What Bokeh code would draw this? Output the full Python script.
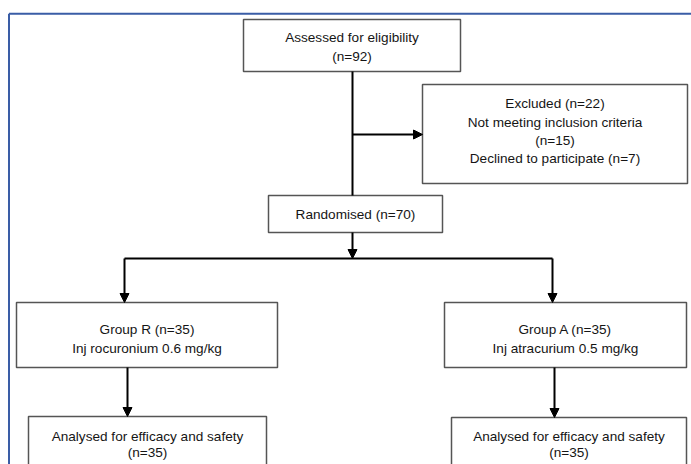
from bokeh.plotting import figure
from bokeh.models import Range1d, Arrow, NormalHead, ColumnDataSource
from bokeh.core.properties import value
from bokeh.embed import file_html
from bokeh.resources import INLINE

# ---------------- data ----------------
assessed_n = 92
excluded_n = 22
not_meeting_n = 15
declined_n = 7
randomised_n = 70
group_r_n = 35
group_a_n = 35
analysed_r_n = 35
analysed_a_n = 35
group_r_drug = "Inj rocuronium 0.6 mg/kg"
group_a_drug = "Inj atracurium 0.5 mg/kg"

box_texts = [
    ["Assessed for eligibility", f"(n={assessed_n})"],
    [f"Excluded (n={excluded_n})", "Not meeting inclusion criteria",
     f"(n={not_meeting_n})", f"Declined to participate (n={declined_n})"],
    [f"Randomised (n={randomised_n})"],
    [f"Group R (n={group_r_n})", group_r_drug],
    [f"Group A (n={group_a_n})", group_a_drug],
    ["Analysed for efficacy and safety", f"(n={analysed_r_n})"],
    ["Analysed for efficacy and safety", f"(n={analysed_a_n})"],
]

# ---------------- layout (pixel space) ----------------
# left, right, top, bottom, text line centres
box_geom = [
    (243, 460, 19, 71, [37, 56]),
    (422, 687, 84, 183, [103, 121.5, 140, 158]),
    (268, 442, 195, 232, [214]),
    (16, 277, 302, 367, [329, 348]),
    (444, 686, 302, 367, [329, 348]),
    (28, 266, 416, 480, [436, 452]),
    (451, 686, 417, 480, [436, 452]),
]
plain_lines = [
    (352, 71, 352, 195),
    (124, 258, 552, 258),
]
arrows = [
    (352, 134, 422, 134),
    (352, 232, 352, 258),
    (124, 258, 124, 302),
    (552, 258, 552, 302),
    (127, 367, 127, 416),
    (554, 367, 554, 417),
]

p = figure(width=691, height=464, x_range=Range1d(0, 691), y_range=Range1d(464, 0),
           output_backend="svg", toolbar_location=None, min_border=0,
           x_axis_type=None, y_axis_type=None)
p.grid.visible = False
p.outline_line_color = None
p.background_fill_color = "white"
p.border_fill_color = "white"

# blue frame
p.segment(x0=[8.5, 8.5], y0=[13.2, 13.2], x1=[700, 8.5], y1=[13.2, 470],
          line_color="#3a5da6", line_width=2)

# boxes
src = ColumnDataSource(dict(
    left=[b[0] for b in box_geom], right=[b[1] for b in box_geom],
    top=[b[2] for b in box_geom], bottom=[b[3] for b in box_geom]))
p.quad(left="left", right="right", top="top", bottom="bottom", source=src,
       fill_color="white", line_color="#555555", line_width=1.5)

# texts
tx, ty, tt = [], [], []
for lines, g in zip(box_texts, box_geom):
    cx = (g[0] + g[1]) / 2
    for s, y in zip(lines, g[4]):
        tx.append(cx)
        ty.append(y)
        tt.append(s)
p.text(x=tx, y=ty, text=tt, text_align="center", text_baseline="middle",
       text_font=value("Liberation Sans"), text_font_size=value("13.6px"),
       text_color="#151515")

# connector lines
p.segment(x0=[l[0] for l in plain_lines], y0=[l[1] for l in plain_lines],
          x1=[l[2] for l in plain_lines], y1=[l[3] for l in plain_lines],
          line_color="black", line_width=2)

for a in arrows:
    p.add_layout(Arrow(x_start=a[0], y_start=a[1], x_end=a[2], y_end=a[3],
                       line_color="black", line_width=2,
                       end=NormalHead(size=9, fill_color="black", line_color="black", line_width=1)))

open("out.html", "w").write(file_html(p, INLINE))
